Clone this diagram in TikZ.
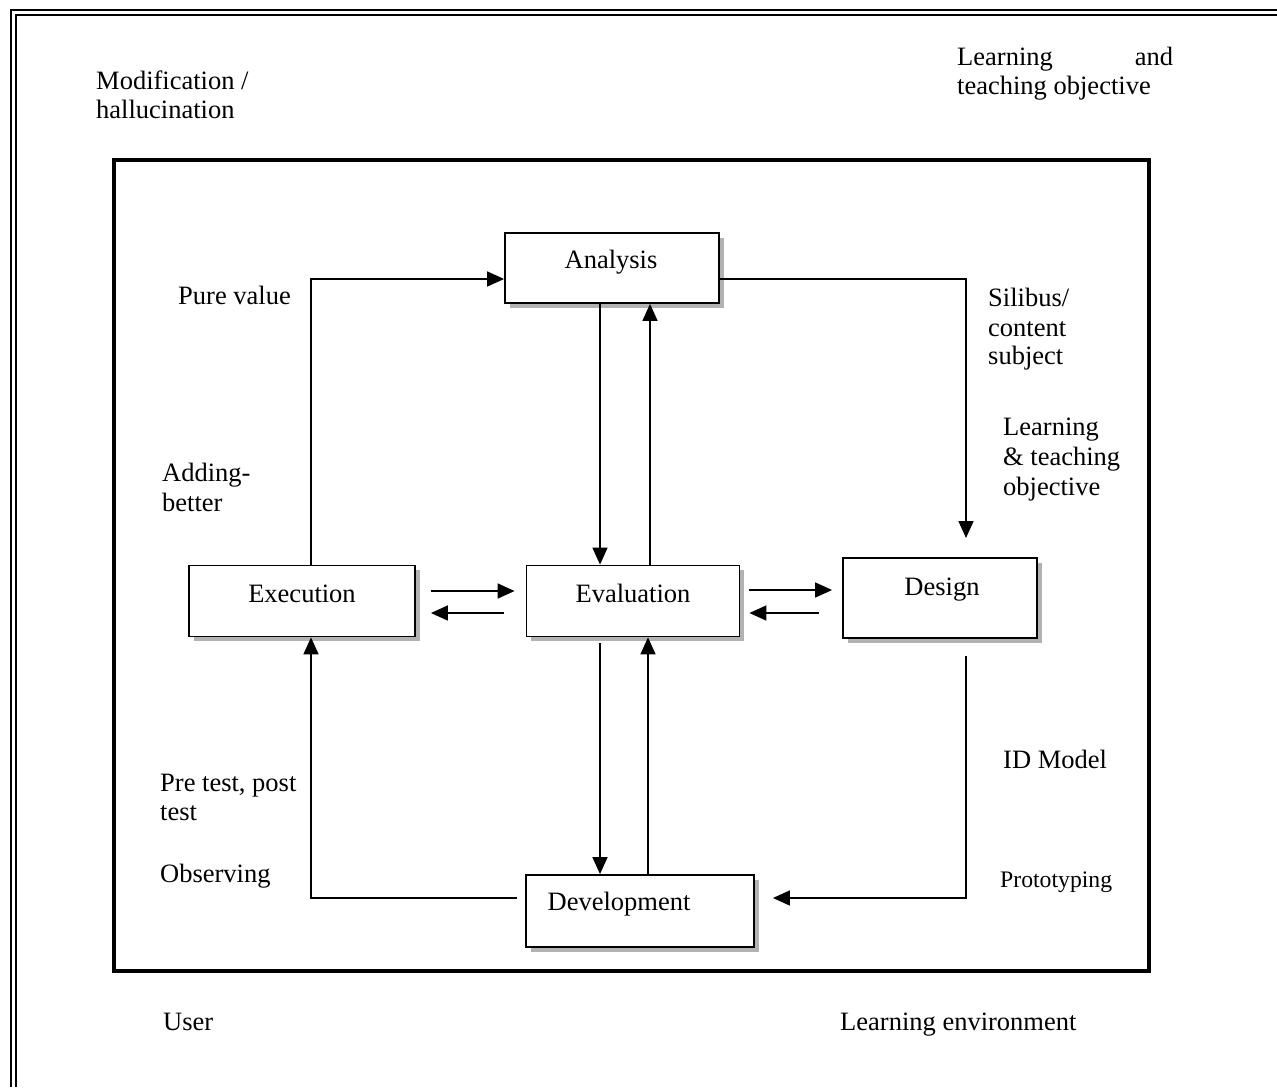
\documentclass[tikz,border=0pt]{standalone}
\usepackage{fontspec}
\setmainfont{Liberation Serif}
\usetikzlibrary{arrows.meta,shadows}
\begin{document}
\begin{tikzpicture}[x=1pt,y=-1pt,
  box/.style={draw,line width=1.8pt,fill=white,inner sep=0pt,
    drop shadow={shadow xshift=4.5pt,shadow yshift=-4.5pt,fill=gray!60,opacity=1}},
  lbl/.style={font=\fontsize{26.5}{30}\selectfont,inner sep=0pt,anchor=base west},
  blbl/.style={font=\fontsize{26.5}{30}\selectfont,inner sep=0pt,anchor=base},
  smlbl/.style={font=\fontsize{23.7}{28}\selectfont,inner sep=0pt,anchor=base west},
  arr/.style={line width=1.6pt,-{Triangle[length=17pt,width=15pt]}}]
\useasboundingbox (0,0) rectangle (1277,1087);
% outer double frame (top and left)
\draw[line width=1.8pt] (11,1087) -- (11,10) -- (1277,10);
\draw[line width=1.8pt] (16,1087) -- (16,15) -- (1277,15);
% inner frame
\draw[line width=4pt] (114,160) rectangle (1149,971);
% boxes
\node[box,minimum width=214pt,minimum height=70pt] (ana) at (612,268) {};
\node[box,minimum width=226pt,minimum height=71pt] (exe) at (302,601) {};
\node[box,minimum width=213pt,minimum height=71pt] (eva) at (633,601) {};
\node[box,minimum width=194pt,minimum height=80pt] (des) at (940,598) {};
\node[box,minimum width=228pt,minimum height=72pt] (dev) at (640,911) {};
% box labels
\node[blbl] (tana) at (611,268) {Analysis};
\node[blbl] (texe) at (302,602) {Execution};
\node[blbl] (teva) at (633,602) {Evaluation};
\node[blbl] (tdes) at (942,595) {Design};
\node[blbl] (tdev) at (619,910) {Development};
% free end
\coordinate (desin) at (966,538);
% connectors
\draw[arr] ([xshift=9pt]exe.north) |- ([yshift=-11pt]ana.west);
\draw[arr] ([yshift=-11pt]ana.east) -| (desin);
\draw[arr] ([xshift=-12pt]ana.south) -- ([xshift=-33pt]eva.north);
\draw[arr] ([xshift=17pt]eva.north) -- ([xshift=38pt]ana.south);
\draw[arr] ([shift={(15pt,10pt)}]exe.east) -- ([shift={(-11pt,10pt)}]eva.west);
\draw[arr] ([shift={(-22pt,-12pt)}]eva.west) -- ([shift={(15pt,-12pt)}]exe.east);
\draw[arr] ([shift={(9pt,11pt)}]eva.east) -- ([shift={(-10pt,8pt)}]des.west);
\draw[arr] ([shift={(-23pt,-15pt)}]des.west) -- ([shift={(9pt,-12pt)}]eva.east);
\draw[arr] ([xshift=-33pt,yshift=-6pt]eva.south) -- ([xshift=-40pt]dev.north);
\draw[arr] ([xshift=8pt]dev.north) -- ([xshift=15pt]eva.south);
\draw[arr] ([shift={(26pt,-17pt)}]des.south) |- ([shift={(18pt,13pt)}]dev.east);
\draw[arr] ([shift={(-8pt,13pt)}]dev.west) -| ([xshift=9pt]exe.south);
% labels
\node[lbl] (m1) at (96,89) {Modification /};
\node[lbl] (m2) at (96,118) {hallucination};
\node[lbl] (l1) at (957,65) {\makebox[216pt][l]{Learning\hfill and}};
\node[lbl] (l2) at (957,94) {teaching objective};
\node[lbl] (pv) at (178,304) {Pure value};
\node[lbl] (s1) at (988,306) {Silibus/};
\node[lbl] (s2) at (988,336) {content};
\node[lbl] (s3) at (988,364) {subject};
\node[lbl] (lt1) at (1003,435) {Learning};
\node[lbl] (lt2) at (1003,465) {\& teaching};
\node[lbl] (lt3) at (1003,495) {objective};
\node[lbl] (ab1) at (162,481) {Adding-};
\node[lbl] (ab2) at (162,511) {better};
\node[lbl] (pt1) at (160,791) {Pre test, post};
\node[lbl] (pt2) at (160,820) {test};
\node[lbl] (obs) at (160,882) {Observing};
\node[lbl] (idm) at (1003,768) {ID Model};
\node[smlbl] (pro) at (1000,887) {Prototyping};
\node[lbl] (usr) at (163,1030) {User};
\node[lbl] (len) at (840,1030) {Learning environment};
\end{tikzpicture}
\end{document}
